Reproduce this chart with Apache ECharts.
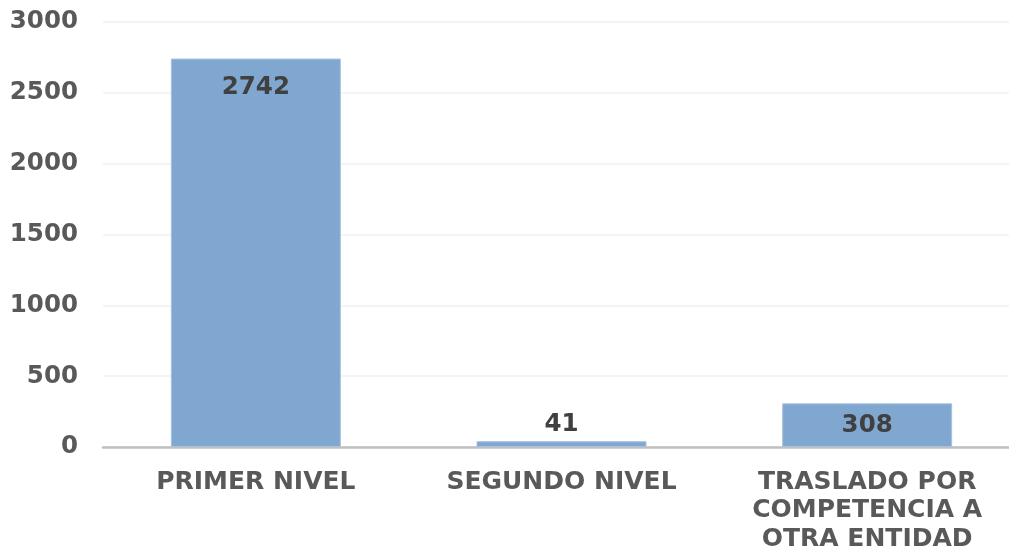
<!DOCTYPE html>
<html>
<head>
<meta charset="utf-8">
<script src="https://cdn.jsdelivr.net/npm/echarts@6/dist/echarts.min.js"></script>
<style>html,body{margin:0;padding:0;background:#fff;overflow:hidden;}#c{width:1020px;height:551px;}</style>
</head>
<body>
<div id="c"></div>
<script>
var categories = ['PRIMER NIVEL', 'SEGUNDO NIVEL', 'TRASLADO POR\nCOMPETENCIA A\nOTRA ENTIDAD'];
var values = [2742, 41, 308];
var yTicks = [0, 500, 1000, 1500, 2000, 2500, 3000];

var font = 'DejaVu Sans';
function labelFor(v) {
  if (v < 100) return { position: 'top', distance: 4 };
  if (v < 1000) return { position: 'inside' };
  return { position: 'insideTop', distance: 17 };
}
var chart = echarts.init(document.getElementById('c'));
chart.setOption({
  animation: false,
  grid: { left: 103, top: 22, right: 0, bottom: 104, containLabel: false, outerBoundsMode: 'none' },
  xAxis: {
    type: 'category',
    data: categories,
    axisLine: { lineStyle: { color: '#bfbfbf', width: 2.5 } },
    axisTick: { show: false },
    axisLabel: { color: '#595959', fontFamily: font, fontWeight: 'bold', fontSize: 25, lineHeight: 28.5, margin: 21, interval: 0 }
  },
  yAxis: {
    type: 'value',
    min: yTicks[0], max: yTicks[yTicks.length - 1], interval: 500,
    axisLine: { show: false },
    axisTick: { show: false },
    splitLine: { lineStyle: { color: '#f0f0f0', width: 1.5 } },
    axisLabel: { color: '#595959', fontFamily: font, fontWeight: 'bold', fontSize: 24.5, margin: 25, padding: [2, 0, 0, 0], formatter: function (v) { return String(v); } }
  },
  series: [{
    type: 'bar',
    barWidth: 170,
    data: values.map(function (v) { return { value: v, label: labelFor(v) }; }),
    itemStyle: { color: '#80a7d0', borderColor: '#a9c2df', borderWidth: 1 },
    label: { show: true, color: '#404040', fontFamily: font, fontWeight: 'bold', fontSize: 24.5 }
  }]
});
</script>
</body>
</html>
